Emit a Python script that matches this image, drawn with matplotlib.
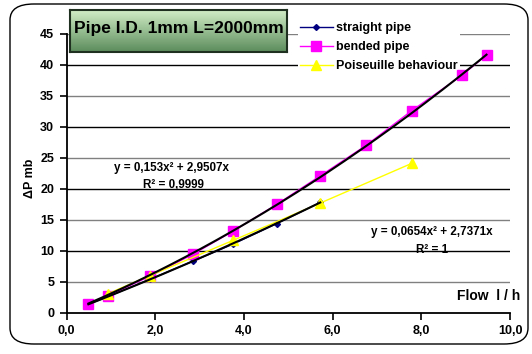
import numpy as np
import matplotlib
matplotlib.use("Agg")
import matplotlib.pyplot as plt
from matplotlib.patches import FancyBboxPatch

plt.rcParams['font.family'] = ['Liberation Sans', 'DejaVu Sans']
plt.rcParams['font.weight'] = 'bold'

# ---- data ----
x_bended = [0.49, 0.94, 1.88, 2.84, 3.76, 4.74, 5.72, 6.75, 7.78, 8.91, 9.47]
y_bended = [1.4, 2.75, 5.9, 9.4, 13.2, 17.5, 22.1, 27.0, 32.6, 38.3, 41.6]
x_straight = [0.49, 0.94, 1.88, 2.84, 3.76, 4.74, 5.72]
y_straight = [1.36, 2.63, 5.4, 8.3, 11.1, 14.4, 17.8]
x_pois = [0.94, 1.88, 3.76, 5.72, 7.78]
y_pois = [3.1, 6.0, 11.7, 17.7, 24.1]
trend_bended = [0.153, 2.9507]     # a x^2 + b x
trend_straight = [0.0654, 2.7371]
series_names = ["straight pipe", "bended pipe", "Poiseuille behaviour"]
title_text = "Pipe I.D. 1mm L=2000mm"
eq1 = ["y = 0,153x\u00b2 + 2,9507x", "R\u00b2 = 0,9999"]
eq2 = ["y = 0,0654x\u00b2 + 2,7371x", "R\u00b2 = 1"]
xticks = [0, 2, 4, 6, 8, 10]
xticklabels = ["0,0", "2,0", "4,0", "6,0", "8,0", "10,0"]
yticks = [0, 5, 10, 15, 20, 25, 30, 35, 40, 45]

W, H = 532, 354
fig = plt.figure(figsize=(W/100, H/100), dpi=100)

# outer rounded border
fig.patches.append(FancyBboxPatch((10/W, 10/H), (W-14)/W, (H-14)/H,
                                  boxstyle="round,pad=0.0,rounding_size=0.045",
                                  transform=fig.transFigure, fill=False,
                                  edgecolor='black', lw=1.0))

ax = fig.add_axes([66.7/W, 1-312.7/H, (510-66.7)/W, (312.7-34)/H])
ax.set_xlim(0, 10)
ax.set_ylim(0, 45)
for s in ['top', 'right']:
    ax.spines[s].set_visible(False)
for s in ['left', 'bottom']:
    ax.spines[s].set_linewidth(1.3)

for i, yv in enumerate(yticks[1:]):
    ax.axhline(yv, color=('#808080' if i % 2 == 0 else '#000000'), lw=1.0, zorder=0)

ax.plot(x_straight, y_straight, color='#000080', lw=1, marker='D', ms=3, zorder=3,
        label=series_names[0])
ax.plot(x_bended, y_bended, color='#ff00ff', lw=1, marker='s', ms=6.5, zorder=3,
        label=series_names[1])
ax.plot(x_pois, y_pois, color='#ffff00', lw=1, marker='^', ms=6.5, zorder=4,
        label=series_names[2])

xb = np.linspace(x_bended[0], x_bended[-1], 200)
ax.plot(xb, trend_bended[0]*xb**2 + trend_bended[1]*xb, color='black', lw=1.5, zorder=5)
xs = np.linspace(x_straight[0], x_straight[-1], 200)
ax.plot(xs, trend_straight[0]*xs**2 + trend_straight[1]*xs, color='black', lw=1.5, zorder=5)

ax.set_xticks(xticks)
ax.set_xticklabels(xticklabels, fontsize=9, fontweight='bold')
ax.set_yticks(yticks)
ax.set_yticklabels([str(v) for v in yticks], fontsize=9, fontweight='bold')
ax.tick_params(direction='out', length=5, width=1.2, pad=4)

fig.text(30/W, 1-178/H, "\u0394P mb", rotation=90, ha='center', va='center',
         fontsize=9, fontweight='bold')
fig.text(520/W, 1-296/H, "Flow  l / h", ha='right', va='center', fontsize=10,
         fontweight='bold')

fig.text(172/W, 1-168/H, eq1[0], ha='center', va='center', fontsize=8.4, fontweight='bold')
fig.text(173/W, 1-185/H, eq1[1], ha='center', va='center', fontsize=8.4, fontweight='bold')
fig.text(432/W, 1-232/H, eq2[0], ha='center', va='center', fontsize=8.4, fontweight='bold')
fig.text(432/W, 1-250/H, eq2[1], ha='center', va='center', fontsize=8.4, fontweight='bold')

# title box with gradient
tax = fig.add_axes([70/W, 1-52/H, 217/W, 42/H])
grad = np.linspace(0, 1, 100).reshape(-1, 1)
top = np.array([0.82, 0.93, 0.78])
bot = np.array([0.36, 0.55, 0.36])
img = top[None, None, :]*(1-grad[:, :, None]) + bot[None, None, :]*grad[:, :, None]
tax.imshow(img, aspect='auto', extent=[0, 1, 0, 1])
tax.set_xticks([]); tax.set_yticks([])
for s in tax.spines.values():
    s.set_linewidth(1.5); s.set_edgecolor('#203020')
tax.text(0.5, 0.55, title_text, ha='center', va='center', fontsize=12.5,
         fontweight='bold', transform=tax.transAxes)

leg = ax.legend(loc='upper left', bbox_to_anchor=(292/W, 1-14/H),
                bbox_transform=fig.transFigure, fontsize=9,
                frameon=True, fancybox=False, edgecolor='none', facecolor='white',
                framealpha=1, handlelength=2.6, handletextpad=0.3, labelspacing=0.55,
                borderpad=0.15)
leg.set_zorder(2.5)
for t in leg.get_texts():
    t.set_fontweight('bold')

fig.savefig("out.png", dpi=100)
